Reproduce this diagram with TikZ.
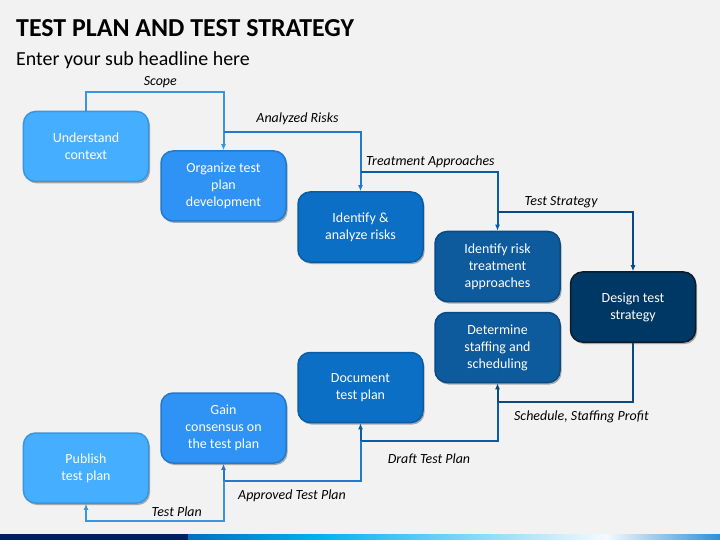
\documentclass[tikz,border=0pt]{standalone}
\usepackage{fontspec}
\setmainfont{Carlito}
\usepackage{tikz}
\usetikzlibrary{arrows,arrows.meta,calc,shadows}
\definecolor{bgGray}{HTML}{F2F2F2}
\definecolor{fillA}{HTML}{45AEFF}
\definecolor{fillB}{HTML}{2E93F5}
\definecolor{fillC}{HTML}{0B6FC5}
\definecolor{fillD}{HTML}{0D5A9C}
\definecolor{fillE}{HTML}{003865}
\definecolor{edgeA}{HTML}{3A95E0}
\definecolor{edgeB}{HTML}{2379CC}
\definecolor{edgeC}{HTML}{0A5CA6}
\definecolor{edgeD}{HTML}{0A4A82}
\definecolor{edgeE}{HTML}{0E1C2A}
\definecolor{navyBar}{HTML}{002060}
\definecolor{barA}{HTML}{0070C0}
\definecolor{barB}{HTML}{00B0F0}
\definecolor{barC}{HTML}{F4FAFF}
\definecolor{barD}{HTML}{2C8FD6}
\tikzset{
    stagebox/.style args={#1/#2}{fill=#1, draw=#2, line width=1.5bp, text=white, rounded corners=12bp,
        minimum width=125bp, minimum height=70bp, align=center, font=\fontsize{14}{17}\selectfont,
        drop shadow={shadow xshift=1.5bp, shadow yshift=-2bp, opacity=0.3, fill=black}},
    flow/.style={draw=#1, line width=2bp, ->},
    tag/.style={font=\fontsize{14}{17}\selectfont\itshape, text=black}
}

\begin{document}
\begin{tikzpicture}[x=1bp,y=-1bp,>={Latex[length=6bp,width=5bp]}]
\fill[bgGray] (0,0) rectangle (720,540);
\useasboundingbox (0,0) rectangle (720,540);
\node[anchor=base west, inner sep=0pt, font=\fontsize{26}{30}\selectfont\bfseries] (title) at (16,36.5) {TEST PLAN AND TEST STRATEGY};
\node[anchor=base west, inner sep=0pt, font=\fontsize{20}{24}\selectfont] (subtitle) at (16,65.5) {Enter your sub headline here};
\foreach \n/\x/\y/\fc/\dc/\t in {
    1/86/146.5/fillA/edgeA/{Understand\\context},
    2/223.5/186/fillB/edgeB/{Organize test\\plan\\development},
    3/360.5/227/fillC/edgeC/{Identify \&\\analyze risks},
    4/497.5/266.5/fillD/edgeD/{Identify risk\\treatment\\approaches},
    5/633/307/fillE/edgeE/{Design test\\strategy},
    6/497.5/347.5/fillD/edgeD/{Determine\\staffing and\\scheduling},
    7/360.5/387.5/fillC/edgeC/{Document\\test plan},
    8/223.5/428/fillB/edgeB/{Gain\\consensus on\\the test plan},
    9/86/468/fillA/edgeA/{Publish\\test plan}} {
    \node[stagebox=\fc/\dc] (st\n) at (\x,\y) {\t};
}
\draw[flow=edgeA] (st1.north) -- ++(0,-19) -| node[pos=0.27,tag,above] {Scope} (st2.north);
\draw[flow=edgeB] (st2.north) ++(0,-18) -| node[pos=0.27,tag,above=3bp] {Analyzed Risks} (st3.north);
\draw[flow=edgeC] (st3.north) ++(0,-19) -| node[pos=0.255,tag,above] {Treatment Approaches} (st4.north);
\draw[flow=edgeD] (st4.north) ++(0,-19) -| node[pos=0.235,tag,above] {Test Strategy} (st5.north);
\draw[flow=edgeD] (st5.south) -- ++(0,59) -| node[pos=0.19,tag,below=5bp] {Schedule, Staffing Profit} (st6.south);
\draw[flow=edgeC] (st6.south) ++(0,19) -- ++(0,39) -| node[pos=0.25,tag,below=8bp] {Draft Test Plan} (st7.south);
\draw[flow=edgeB] (st7.south) ++(0,18) -- ++(0,40) -| node[pos=0.25,tag,below=4bp] {Approved Test Plan} (st8.south);
\draw[flow=edgeA] (st8.south) ++(0,17) -- ++(0,40) -| node[pos=0.17,tag,above] {Test Plan} (st9.south);
\fill[navyBar] (0,534) rectangle (188,540);
\shade[left color=barA, right color=barB] (188,534) rectangle (317,540);
\shade[left color=barB, right color=barC] (317,534) rectangle (606,540);
\shade[left color=barC, right color=barD] (606,534) rectangle (720,540);
\end{tikzpicture}
\end{document}
